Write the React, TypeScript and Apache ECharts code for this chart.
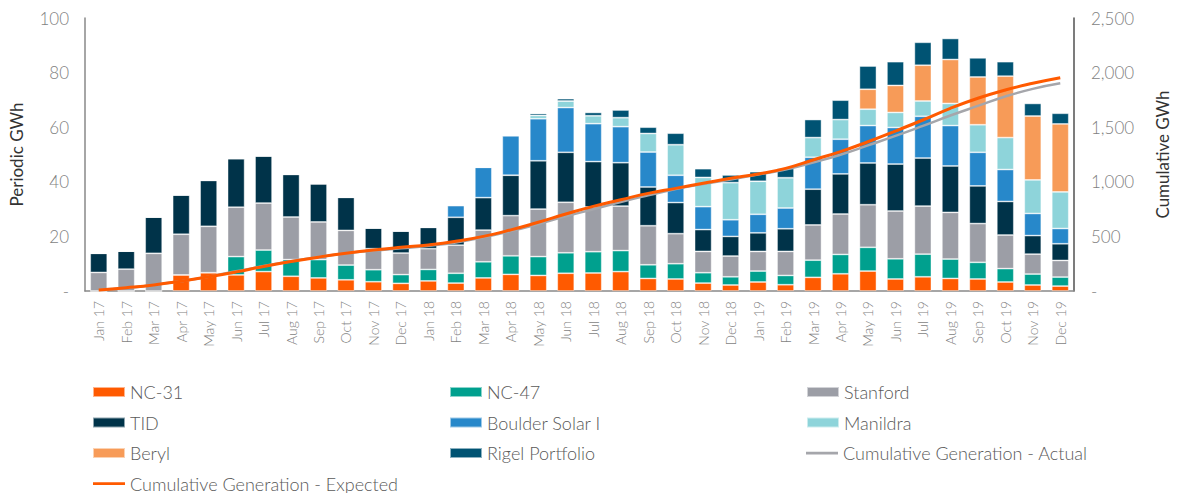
import React, { useEffect, useRef } from "react";
import * as echarts from "echarts";

const categories = [
  "Jan 17", "Feb 17", "Mar 17", "Apr 17", "May 17", "Jun 17", "Jul 17", "Aug 17", "Sep 17", "Oct 17", "Nov 17", "Dec 17",
  "Jan 18", "Feb 18", "Mar 18", "Apr 18", "May 18", "Jun 18", "Jul 18", "Aug 18", "Sep 18", "Oct 18", "Nov 18", "Dec 18",
  "Jan 19", "Feb 19", "Mar 19", "Apr 19", "May 19", "Jun 19", "Jul 19", "Aug 19", "Sep 19", "Oct 19", "Nov 19", "Dec 19",
];

const nc31 = [0, 0, 0, 5.9, 6.7, 5.9, 7.1, 5.4, 4.8, 4.1, 3.4, 2.8, 3.7, 2.9, 4.8, 6.1, 5.7, 6.5, 6.6, 7.1, 4.6, 4.4, 2.9, 2.2, 3.3, 2.3, 5.0, 6.3, 7.3, 4.4, 5.2, 4.6, 4.4, 3.3, 2.2, 1.8];
const nc47 = [0, 0, 0, 0, 0, 6.7, 7.9, 6.1, 6.7, 5.4, 4.4, 3.2, 4.2, 3.6, 5.9, 6.8, 6.9, 7.5, 7.8, 7.7, 5.0, 5.6, 3.8, 3.0, 4.0, 3.4, 6.3, 7.1, 8.7, 7.4, 8.3, 7.1, 6.1, 4.9, 4.0, 3.3];
const stanford = [6.8, 8.0, 13.8, 14.9, 17.0, 18.1, 17.2, 15.6, 13.8, 12.7, 7.7, 7.9, 7.6, 10.3, 11.6, 14.7, 17.4, 18.5, 16.4, 16.3, 14.3, 11.0, 7.8, 7.6, 7.2, 8.8, 12.9, 14.8, 15.6, 17.5, 17.6, 17.1, 14.2, 12.3, 7.3, 6.1];
const tid = [7.0, 6.6, 13.3, 14.4, 16.8, 17.8, 17.3, 15.6, 14.0, 12.1, 7.6, 8.1, 7.8, 10.2, 11.9, 14.8, 17.7, 18.3, 16.6, 15.9, 14.2, 11.4, 8.0, 7.2, 6.8, 8.3, 13.1, 14.7, 15.3, 17.2, 17.6, 17.0, 13.8, 12.3, 6.8, 6.1];
const boulder = [0, 0, 0, 0, 0, 0, 0, 0, 0, 0, 0, 0, 0, 4.3, 11.1, 14.5, 15.4, 16.4, 13.9, 13.2, 12.8, 10.0, 8.4, 6.1, 6.8, 7.6, 11.7, 12.7, 13.7, 13.4, 15.3, 14.8, 12.3, 11.7, 8.1, 5.6];
const manildra = [0, 0, 0, 0, 0, 0, 0, 0, 0, 0, 0, 0, 0, 0, 0, 0, 1.2, 2.4, 2.9, 3.3, 6.8, 11.2, 10.7, 13.6, 12.1, 11.1, 7.2, 7.2, 6.0, 5.5, 5.6, 8.1, 10.1, 11.7, 12.3, 13.4];
const beryl = [0, 0, 0, 0, 0, 0, 0, 0, 0, 0, 0, 0, 0, 0, 0, 0, 0, 0, 0, 0, 0, 0, 0, 0, 0, 0, 0, 0, 7.3, 9.9, 13.1, 16.1, 17.5, 22.5, 23.4, 24.9];
const rigel = [0, 0, 0, 0, 0, 0, 0, 0, 0, 0, 0, 0, 0, 0, 0, 0, 0.7, 0.85, 1.2, 2.8, 2.3, 4.2, 3.2, 2.8, 3.5, 3.4, 6.6, 7.1, 8.5, 8.7, 8.4, 7.7, 7.0, 5.3, 4.6, 3.9];

const cumActual = [14, 28, 55, 90, 131, 180, 229, 272, 311, 346, 369, 391, 414, 445, 491, 548, 613, 683, 749, 815, 876, 934, 979, 1022, 1066, 1112, 1176, 1248, 1333, 1420, 1512, 1607, 1695, 1781, 1851, 1902];
const cumExpected = [10, 30, 55, 90, 130, 175, 225, 270, 310, 345, 375, 400, 422, 455, 500, 560, 630, 705, 775, 835, 894, 940, 986, 1032, 1071, 1123, 1200, 1276, 1367, 1465, 1566, 1673, 1765, 1841, 1902, 1953];

const leftTicks = [0, 20, 40, 60, 80, 100];
const rightTicks = [0, 500, 1000, 1500, 2000, 2500];

const FONT = "Lato, 'Noto Sans', sans-serif";
const LINE_ICON = "path://M0,0L0.01,0Z M0,3.8L32,3.8L32,6.4L0,6.4Z M0,10L0.01,10Z";

const barSeries = [
  { name: "NC-31", data: nc31, color: "#FF5A00" },
  { name: "NC-47", data: nc47, color: "#00A08E" },
  { name: "Stanford", data: stanford, color: "#9C9EA6" },
  { name: "TID", data: tid, color: "#003349" },
  { name: "Boulder Solar I", data: boulder, color: "#2788CA" },
  { name: "Manildra", data: manildra, color: "#8ED4DA" },
  { name: "Beryl", data: beryl, color: "#F79B58" },
  { name: "Rigel Portfolio", data: rigel, color: "#005373" },
];

export default function App() {
  const ref = useRef<HTMLDivElement>(null);
  useEffect(() => {
    if (!ref.current) return;
    const chart = echarts.init(ref.current, null, { renderer: "svg" });
    const fmt = (v: number) => (v === 0 ? "-" : v.toLocaleString("en-US"));
    chart.setOption({
      animation: false,
      textStyle: { fontFamily: FONT },
      grid: { left: 74, right: 109, top: 18, bottom: 202, containLabel: false },
      legend: {
        left: 92,
        top: 383,
        width: 1080,
        padding: 0,
        itemGap: 12.5,
        itemWidth: 32,
        itemHeight: 10,
        textStyle: { fontSize: 18, fontWeight: 300, color: "#595959", width: 306.5, lineHeight: 18, fontFamily: FONT },
        data: [
          ...barSeries.map((s) => ({ name: s.name, icon: "rect" })),
          { name: "Cumulative Generation - Actual", icon: LINE_ICON },
          { name: "Cumulative Generation - Expected", icon: LINE_ICON },
        ],
      },
      xAxis: {
        type: "category",
        data: categories,
        axisTick: { show: false },
        axisLine: { lineStyle: { color: "#898989", width: 1.5 } },
        axisLabel: { interval: 0, rotate: 90, margin: 10, fontSize: 14, fontWeight: 300, color: "#7F7F7F", fontFamily: FONT },
      },
      yAxis: [
        {
          type: "value",
          min: leftTicks[0],
          max: leftTicks[leftTicks.length - 1],
          interval: 20,
          name: "Periodic GWh",
          nameLocation: "middle",
          nameGap: 60,
          nameTextStyle: { fontSize: 17, color: "#333333", fontFamily: FONT },
          axisLine: { show: true, lineStyle: { color: "#898989", width: 1.5 } },
          axisTick: { show: false },
          splitLine: { show: false },
          axisLabel: { fontSize: 17, fontWeight: 300, color: "#7F7F7F", margin: 16, formatter: fmt, fontFamily: FONT },
        },
        {
          type: "value",
          min: rightTicks[0],
          max: rightTicks[rightTicks.length - 1],
          interval: 500,
          name: "Cumulative GWh",
          nameLocation: "middle",
          nameGap: 80,
          nameTextStyle: { fontSize: 17, color: "#333333", fontFamily: FONT },
          axisLine: { show: true, lineStyle: { color: "#505050", width: 1.5 } },
          axisTick: { show: false },
          splitLine: { show: false },
          axisLabel: { fontSize: 17, fontWeight: 300, color: "#7F7F7F", margin: 17, formatter: fmt, fontFamily: FONT },
        },
      ],
      series: [
        ...barSeries.map((s) => ({
          name: s.name,
          type: "bar",
          stack: "gen",
          barWidth: 17,
          data: s.data,
          itemStyle: { color: s.color, borderColor: "rgba(255,255,255,0.55)", borderWidth: 0.8 },
        })),
        {
          name: "Cumulative Generation - Actual",
          type: "line",
          yAxisIndex: 1,
          smooth: true,
          symbol: "none",
          data: cumActual,
          itemStyle: { color: "#A5A6AB" },
          lineStyle: { color: "#A5A6AB", width: 2.5 },
          z: 3,
        },
        {
          name: "Cumulative Generation - Expected",
          type: "line",
          yAxisIndex: 1,
          smooth: true,
          symbol: "none",
          data: cumExpected,
          itemStyle: { color: "#FF5A00" },
          lineStyle: { color: "#FF5A00", width: 3 },
          z: 4,
        },
      ],
    });
    return () => chart.dispose();
  }, []);
  return <div ref={ref} style={{ position: "absolute", left: 0, top: 0, width: 1183, height: 493 }} />;
}
